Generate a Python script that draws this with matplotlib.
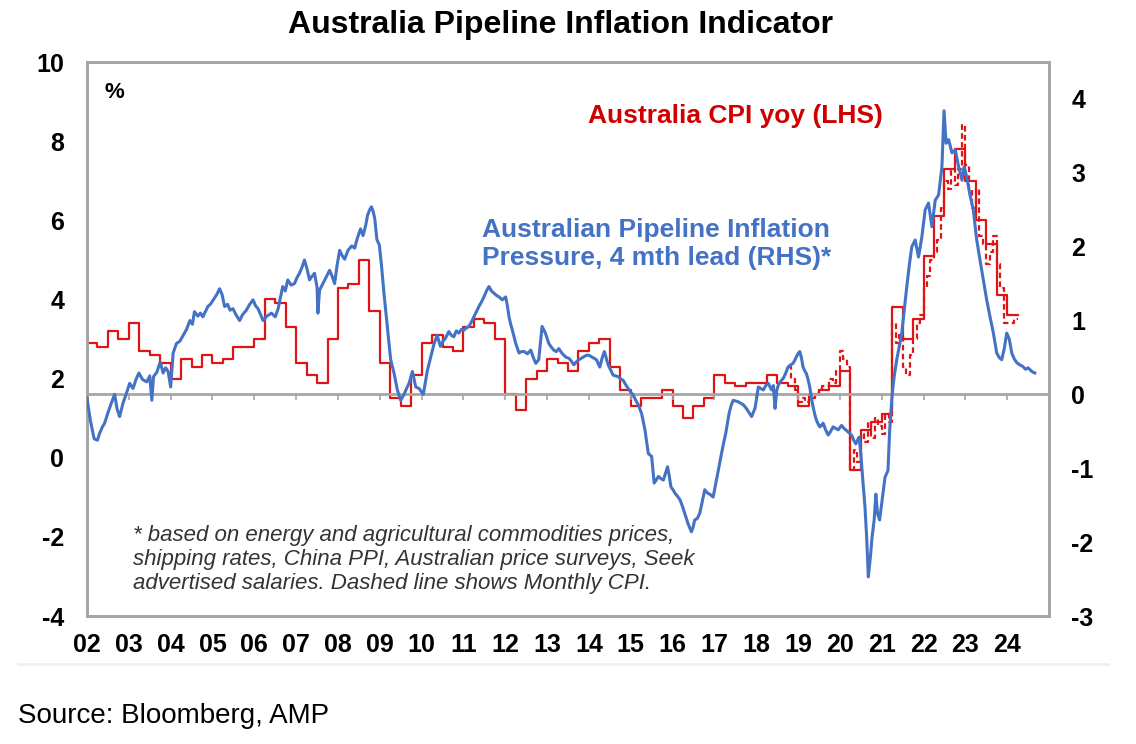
import matplotlib
matplotlib.use("Agg")
import matplotlib.pyplot as plt
import numpy as np

plt.rcParams['font.family'] = ['Liberation Sans', 'DejaVu Sans']
plt.rcParams['axes.unicode_minus'] = False

# Australia CPI yoy, quarterly, Q1 2002 .. Q1 2024 (LHS, %)
cpi_quarterly = [
    2.9, 2.8, 3.2, 3.0,   # 2002
    3.4, 2.7, 2.6, 2.4,   # 2003
    2.0, 2.5, 2.3, 2.6,   # 2004
    2.4, 2.5, 2.8, 2.8,   # 2005
    3.0, 4.0, 3.9, 3.3,   # 2006
    2.4, 2.1, 1.9, 3.0,   # 2007
    4.3, 4.4, 5.0, 3.7,   # 2008
    2.4, 1.5, 1.3, 2.1,   # 2009
    2.9, 3.1, 2.8, 2.7,   # 2010
    3.3, 3.5, 3.4, 3.0,   # 2011
    1.6, 1.2, 2.0, 2.2,   # 2012
    2.5, 2.4, 2.2, 2.7,   # 2013
    2.9, 3.0, 2.3, 1.7,   # 2014
    1.3, 1.5, 1.5, 1.7,   # 2015
    1.3, 1.0, 1.3, 1.5,   # 2016
    2.1, 1.9, 1.8, 1.9,   # 2017
    1.9, 2.1, 1.9, 1.8,   # 2018
    1.3, 1.6, 1.7, 1.8,   # 2019
    2.2, -0.3, 0.7, 0.9,  # 2020
    1.1, 3.8, 3.0, 3.5,   # 2021
    5.1, 6.1, 7.3, 7.8,   # 2022
    7.0, 6.0, 5.4, 4.1,   # 2023
    3.6,                  # 2024
]
cpi_q_start = 2002.0

# Monthly CPI indicator, Oct 2018 .. Mar 2024 (LHS, %, dashed)
cpi_monthly = [
    2.3, 2.0, 1.7,                                              # 2018 Oct-Dec
    1.4, 1.5, 1.4, 1.6, 1.5, 1.6, 1.7, 1.8, 1.8, 2.0, 1.9, 2.2,  # 2019
    2.7, 2.5, 2.3, -0.3, 0.2, -0.1, 0.6, 0.4, 0.9, 0.5, 1.0, 0.8,  # 2020
    0.6, 1.1, 0.9, 3.4, 2.9, 3.1, 2.3, 2.1, 2.6, 3.0, 3.4, 3.6,  # 2021
    4.3, 4.6, 5.0, 5.2, 5.5, 6.3, 7.0, 6.8, 7.3, 6.9, 7.3, 8.4,  # 2022
    7.4, 6.8, 6.3, 6.8, 5.6, 5.4, 4.9, 5.2, 5.6, 4.9, 4.3, 3.4,  # 2023
    3.4, 3.4, 3.5,                                              # 2024
]
cpi_m_start = 2018.75

# Australian Pipeline Inflation Pressure, 4 mth lead (RHS)
pipe_t = [
    2002.00, 2002.08, 2002.17, 2002.25, 2002.30, 2002.36, 2002.42, 2002.50,
    2002.58, 2002.66, 2002.72, 2002.78, 2002.86, 2002.94, 2003.02, 2003.10,
    2003.17, 2003.24, 2003.33, 2003.43, 2003.50, 2003.55, 2003.59, 2003.67,
    2003.75, 2003.82, 2003.88, 2003.94, 2004.00, 2004.06, 2004.14, 2004.22,
    2004.30, 2004.38, 2004.46, 2004.52, 2004.57, 2004.65, 2004.71, 2004.77,
    2004.83, 2004.89, 2004.95, 2005.02, 2005.10, 2005.17, 2005.23, 2005.29,
    2005.36, 2005.42, 2005.49, 2005.56, 2005.65, 2005.72, 2005.81, 2005.89,
    2005.97, 2006.03, 2006.09, 2006.15, 2006.21, 2006.30, 2006.41, 2006.50,
    2006.57, 2006.62, 2006.68, 2006.74, 2006.80, 2006.88, 2006.96, 2007.02,
    2007.08, 2007.14, 2007.20, 2007.26, 2007.32, 2007.38, 2007.44, 2007.50,
    2007.52, 2007.56, 2007.64, 2007.72, 2007.80, 2007.86, 2007.92, 2007.98,
    2008.04, 2008.10, 2008.16, 2008.24, 2008.33, 2008.40, 2008.46, 2008.54,
    2008.60, 2008.66, 2008.71, 2008.76, 2008.80, 2008.84, 2008.88, 2008.93,
    2008.99, 2009.04, 2009.10, 2009.18, 2009.26, 2009.34, 2009.42, 2009.50,
    2009.58, 2009.64, 2009.70, 2009.78, 2009.86, 2009.94, 2010.04, 2010.14,
    2010.22, 2010.30, 2010.37, 2010.45, 2010.51, 2010.57, 2010.65, 2010.71,
    2010.77, 2010.83, 2010.89, 2010.95, 2011.01, 2011.07, 2011.13, 2011.19,
    2011.25, 2011.31, 2011.37, 2011.43, 2011.49, 2011.55, 2011.61, 2011.67,
    2011.73, 2011.79, 2011.85, 2011.93, 2012.01, 2012.05, 2012.09, 2012.13,
    2012.17, 2012.25, 2012.33, 2012.39, 2012.45, 2012.53, 2012.61, 2012.67,
    2012.73, 2012.80, 2012.85, 2012.88, 2012.96, 2013.04, 2013.10, 2013.16,
    2013.22, 2013.28, 2013.34, 2013.40, 2013.46, 2013.52, 2013.58, 2013.64,
    2013.70, 2013.76, 2013.82, 2013.88, 2013.94, 2014.00, 2014.06, 2014.12,
    2014.18, 2014.26, 2014.32, 2014.37, 2014.42, 2014.46, 2014.52, 2014.58,
    2014.64, 2014.70, 2014.76, 2014.82, 2014.88, 2014.94, 2015.00, 2015.06,
    2015.12, 2015.18, 2015.26, 2015.34, 2015.42, 2015.50, 2015.56, 2015.62,
    2015.66, 2015.72, 2015.78, 2015.84, 2015.88, 2015.92, 2015.96, 2016.02,
    2016.06, 2016.12, 2016.18, 2016.24, 2016.29, 2016.37, 2016.45, 2016.49,
    2016.53, 2016.59, 2016.65, 2016.71, 2016.77, 2016.81, 2016.85, 2016.91,
    2016.97, 2017.05, 2017.11, 2017.17, 2017.22, 2017.27, 2017.35, 2017.40,
    2017.45, 2017.51, 2017.57, 2017.63, 2017.69, 2017.75, 2017.81, 2017.89,
    2017.97, 2018.01, 2018.05, 2018.11, 2018.17, 2018.23, 2018.29, 2018.33,
    2018.37, 2018.41, 2018.45, 2018.49, 2018.53, 2018.59, 2018.65, 2018.70,
    2018.76, 2018.82, 2018.88, 2018.92, 2018.96, 2019.00, 2019.04, 2019.08,
    2019.12, 2019.16, 2019.20, 2019.24, 2019.28, 2019.32, 2019.36, 2019.40,
    2019.44, 2019.48, 2019.52, 2019.56, 2019.60, 2019.66, 2019.72, 2019.78,
    2019.84, 2019.90, 2019.96, 2020.04, 2020.10, 2020.16, 2020.22, 2020.29,
    2020.33, 2020.38, 2020.42, 2020.46, 2020.50, 2020.55, 2020.60, 2020.64,
    2020.68, 2020.73, 2020.77, 2020.82, 2020.86, 2020.90, 2020.95, 2021.02,
    2021.08, 2021.15, 2021.19, 2021.25, 2021.30, 2021.36, 2021.42, 2021.48,
    2021.54, 2021.60, 2021.66, 2021.72, 2021.80, 2021.88, 2021.96, 2022.04,
    2022.12, 2022.20, 2022.28, 2022.36, 2022.44, 2022.49, 2022.54, 2022.60,
    2022.68, 2022.76, 2022.84, 2022.92, 2022.97, 2023.03, 2023.11, 2023.19,
    2023.27, 2023.35, 2023.43, 2023.51, 2023.59, 2023.67, 2023.75, 2023.81,
    2023.87, 2023.93, 2023.99, 2024.05, 2024.11, 2024.17, 2024.23, 2024.30,
    2024.37, 2024.44, 2024.50, 2024.57, 2024.62, 2024.66,
]
pipe_v = [
    -0.05, -0.35, -0.60, -0.62, -0.53, -0.45, -0.39, -0.25,
    -0.12, 0.00, -0.20, -0.30, -0.12, 0.01, 0.15, 0.08,
    0.20, 0.29, 0.20, 0.17, 0.25, -0.08, 0.24, 0.30,
    0.44, 0.29, 0.36, 0.31, 0.10, 0.56, 0.69, 0.72,
    0.80, 0.88, 1.00, 0.95, 1.12, 1.06, 1.10, 1.05,
    1.12, 1.19, 1.22, 1.28, 1.35, 1.43, 1.35, 1.19,
    1.22, 1.14, 1.16, 1.08, 1.00, 1.08, 1.14, 1.22,
    1.28, 1.20, 1.16, 1.08, 1.00, 1.06, 1.10, 1.05,
    1.16, 1.30, 1.46, 1.40, 1.55, 1.48, 1.50, 1.58,
    1.64, 1.72, 1.82, 1.70, 1.55, 1.60, 1.64, 1.45,
    1.10, 1.41, 1.50, 1.59, 1.68, 1.60, 1.50, 1.75,
    1.95, 1.88, 1.83, 1.95, 2.01, 1.98, 2.11, 2.24,
    2.15, 2.28, 2.43, 2.50, 2.54, 2.48, 2.38, 2.10,
    2.02, 1.75, 1.37, 0.92, 0.47, 0.29, 0.06, -0.08,
    0.00, 0.08, 0.15, 0.31, 0.10, 0.08, 0.00, 0.33,
    0.51, 0.69, 0.80, 0.65, 0.72, 0.76, 0.85, 0.80,
    0.78, 0.86, 0.83, 0.88, 0.87, 0.90, 0.92, 0.98,
    1.05, 1.12, 1.19, 1.25, 1.32, 1.40, 1.46, 1.40,
    1.37, 1.34, 1.32, 1.28, 1.32, 1.20, 1.05, 0.95,
    0.87, 0.69, 0.56, 0.58, 0.58, 0.55, 0.60, 0.50,
    0.42, 0.47, 0.75, 0.92, 0.83, 0.69, 0.64, 0.60,
    0.58, 0.62, 0.57, 0.53, 0.50, 0.49, 0.45, 0.40,
    0.44, 0.47, 0.49, 0.51, 0.53, 0.53, 0.51, 0.49,
    0.47, 0.37, 0.50, 0.58, 0.48, 0.40, 0.33, 0.26,
    0.25, 0.24, 0.21, 0.19, 0.13, 0.08, 0.03, -0.01,
    -0.08, -0.14, -0.26, -0.48, -0.80, -0.84, -1.20, -1.15,
    -1.11, -1.14, -1.16, -1.05, -0.98, -1.10, -1.25, -1.30,
    -1.34, -1.38, -1.43, -1.52, -1.61, -1.75, -1.86, -1.80,
    -1.70, -1.68, -1.61, -1.45, -1.29, -1.32, -1.34, -1.36,
    -1.39, -1.16, -0.98, -0.80, -0.66, -0.53, -0.26, -0.15,
    -0.08, -0.09, -0.10, -0.12, -0.14, -0.18, -0.23, -0.30,
    -0.19, -0.05, 0.10, 0.08, 0.06, 0.12, 0.15, 0.10,
    0.06, 0.12, -0.19, 0.05, 0.13, 0.18, 0.22, 0.28,
    0.37, 0.40, 0.42, 0.46, 0.51, 0.55, 0.58, 0.50,
    0.37, 0.32, 0.28, 0.20, 0.10, -0.05, -0.17, -0.27,
    -0.35, -0.40, -0.44, -0.42, -0.39, -0.48, -0.55, -0.50,
    -0.44, -0.46, -0.48, -0.42, -0.46, -0.49, -0.52, -0.56,
    -0.62, -0.67, -0.62, -0.58, -0.80, -1.17, -1.52, -1.93,
    -2.47, -2.20, -1.93, -1.70, -1.35, -1.61, -1.70, -1.39,
    -1.12, -1.03, -0.49, 0.00, 0.25, 0.47, 0.65, 0.83,
    1.15, 1.46, 1.75, 2.00, 2.09, 1.86, 2.13, 2.50,
    2.59, 2.27, 2.63, 2.70, 3.08, 3.84, 3.40, 3.45,
    3.27, 3.31, 3.08, 2.90, 3.08, 2.95, 2.70, 2.50,
    2.10, 1.82, 1.55, 1.28, 1.05, 0.83, 0.56, 0.50,
    0.47, 0.62, 0.83, 0.75, 0.56, 0.48, 0.43, 0.40,
    0.38, 0.34, 0.36, 0.32, 0.30, 0.29,
]

year_ticks = list(range(2002, 2025))
year_labels = [f"{y % 100:02d}" for y in year_ticks]
left_ticks = [-4, -2, 0, 2, 4, 6, 8, 10]
right_ticks = [-3, -2, -1, 0, 1, 2, 3, 4]

RED = '#E01414'
RED_TEXT = '#D00000'
BLUE = '#4472C4'
GREY = '#A6A6A6'

W, H = 1136, 744
fig = plt.figure(figsize=(W / 100, H / 100), dpi=100)
ax = fig.add_axes([87 / W, 1 - 616 / H, (1049 - 87) / W, (616 - 62) / H])
ax2 = ax.twinx()

# quarterly and monthly CPI as steps (value held over its period)
q_x = cpi_q_start + 0.25 * np.arange(len(cpi_quarterly) + 1)
q_y = cpi_quarterly + [cpi_quarterly[-1]]
m_x = cpi_m_start + np.arange(len(cpi_monthly) + 1) / 12
m_y = cpi_monthly + [cpi_monthly[-1]]

ax.step(q_x, q_y, where='post', color=RED, lw=1.6, zorder=3)
ax.step(m_x, m_y, where='post', color=RED, lw=1.6, ls=(0, (2.5, 1.5)), zorder=3)

ax2.axhline(0, color=GREY, lw=2, zorder=1)
ax2.vlines(year_ticks[1:], -0.07, 0, color=GREY, lw=1.2, zorder=1)
ax2.plot(pipe_t, pipe_v, color=BLUE, lw=2.2, zorder=4)

ax.set_xlim(2002, 2025)
ax.set_ylim(-4, 10)
ax2.set_ylim(-3, 4.5)

ax.set_xticks(year_ticks)
ax.set_xticklabels(year_labels)
ax.set_yticks(left_ticks)
ax.set_yticklabels([str(v) for v in left_ticks])
ax2.set_yticks(right_ticks)
ax2.set_yticklabels([str(v) for v in right_ticks])

ax.tick_params(axis='x', length=0, pad=12.5, labelsize=18)
ax.tick_params(axis='y', length=0, pad=16.5, labelsize=18)
ax2.tick_params(axis='y', length=0, pad=16, labelsize=18)
for lbl in ax.get_xticklabels() + ax.get_yticklabels() + ax2.get_yticklabels():
    lbl.set_fontweight('bold')

for a in (ax, ax2):
    for sp in a.spines.values():
        sp.set_color(GREY)
        sp.set_linewidth(2)


def fx(px):
    return px / W


def fy(py):
    return 1 - py / H


fig.text(fx(560), fy(25), 'Australia Pipeline Inflation Indicator',
         ha='center', va='center', fontsize=23, fontweight='bold')
fig.text(fx(114), fy(92), '%', ha='center', va='center', fontsize=16, fontweight='bold')
fig.text(fx(588), fy(116), 'Australia CPI yoy (LHS)', ha='left', va='center',
         fontsize=19, fontweight='bold', color=RED_TEXT)
fig.text(fx(482), fy(230), 'Australian Pipeline Inflation', ha='left', va='center',
         fontsize=19, fontweight='bold', color=BLUE)
fig.text(fx(482), fy(258), 'Pressure, 4 mth lead (RHS)*', ha='left', va='center',
         fontsize=19, fontweight='bold', color=BLUE)

note_lines = [
    '* based on energy and agricultural commodities prices,',
    'shipping rates, China PPI, Australian price surveys, Seek',
    'advertised salaries. Dashed line shows Monthly CPI.',
]
for i, line in enumerate(note_lines):
    fig.text(fx(133), fy(535 + 24.5 * i), line, ha='left', va='center',
             fontsize=16, fontstyle='italic', color='#333333')

fig.add_artist(plt.Line2D([fx(18), fx(1108)], [fy(664), fy(664)],
                          color='#F0F0F0', lw=2))
fig.text(fx(18), fy(716), 'Source: Bloomberg, AMP', ha='left', va='center', fontsize=20)

fig.savefig('out.png', dpi=100)
